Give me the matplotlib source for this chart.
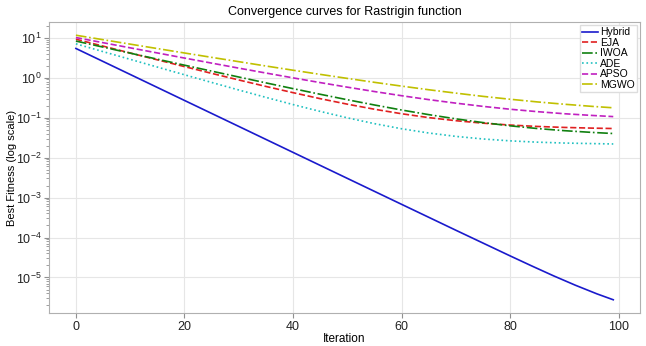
import matplotlib
matplotlib.use("Agg")
import matplotlib.pyplot as plt

iterations = [0, 5, 10, 15, 20, 25, 30, 35, 40, 45, 50, 55, 60, 65, 70, 75, 80, 85, 90, 95, 99]
hybrid_iterations = [0, 10, 20, 30, 40, 50, 60, 70, 80, 84, 88, 92, 96, 99]

hybrid = [5.37, 1.202, 0.269, 0.0603, 0.01349, 0.00302, 0.000677, 0.0001521, 3.47e-5,
          1.94e-5, 1.10e-5, 6.42e-6, 3.89e-6, 2.77e-6]
eja = [9.15, 6.15, 4.14, 2.79, 1.89, 1.28, 0.875, 0.603, 0.421, 0.298, 0.217, 0.162,
       0.125, 0.100, 0.0837, 0.0726, 0.0651, 0.0601, 0.0568, 0.0546, 0.0533]
iwoa = [8.23, 5.81, 4.10, 2.90, 2.05, 1.457, 1.037, 0.740, 0.531, 0.384, 0.280, 0.207,
        0.155, 0.1187, 0.0931, 0.0751, 0.0623, 0.0533, 0.0471, 0.0427, 0.040]
ade = [7.02, 4.48, 2.87, 1.84, 1.18, 0.759, 0.491, 0.321, 0.212, 0.143, 0.0987, 0.0706,
       0.0526, 0.0412, 0.0339, 0.0292, 0.0262, 0.0243, 0.0231, 0.0224, 0.0219]
apso = [10.08, 7.49, 5.57, 4.15, 3.09, 2.31, 1.73, 1.305, 0.987, 0.752, 0.578, 0.449,
        0.353, 0.282, 0.230, 0.191, 0.162, 0.141, 0.125, 0.1135, 0.106]
mgwo = [11.51, 8.90, 6.89, 5.34, 4.14, 3.22, 2.51, 1.957, 1.534, 1.208, 0.957, 0.763,
        0.614, 0.498, 0.410, 0.340, 0.288, 0.247, 0.216, 0.1915, 0.176]

series = [
    ("Hybrid", hybrid_iterations, hybrid, "#1a1acc", "-"),
    ("EJA", iterations, eja, "#e02020", "--"),
    ("IWOA", iterations, iwoa, "#108010", "-."),
    ("ADE", iterations, ade, "#20c0c0", ":"),
    ("APSO", iterations, apso, "#c020c0", "--"),
    ("MGWO", iterations, mgwo, "#c0c000", "-."),
]

plt.rcParams["font.family"] = ["Liberation Sans", "DejaVu Sans"]

fig = plt.figure(figsize=(6.46, 3.46), dpi=100)
ax = fig.add_axes([0.0759, 0.0954, 0.915, 0.841])

for name, xs, vals, col, ls in series:
    ax.plot(xs, vals, color=col, linestyle=ls, linewidth=1.2, label=name)

ax.set_yscale("log")
ax.set_xticks([0, 20, 40, 60, 80, 100])
ax.grid(True, which="major", color="#e6e6e6", linewidth=0.8)
ax.set_axisbelow(True)
for sp in ax.spines.values():
    sp.set_color("#b0b0b0")
ax.tick_params(colors="#909090", labelcolor="#222222", labelsize=9)
ax.tick_params(axis="x", pad=2.5)
ax.tick_params(axis="y", pad=2)
ax.tick_params(which="minor", colors="#909090")

ax.set_title("Convergence curves for Rastrigin function", fontsize=9, pad=5)
ax.set_xlabel("Iteration", fontsize=8.5, labelpad=0)
ax.set_ylabel("Best Fitness (log scale)", fontsize=8)
ax.yaxis.set_label_coords(-0.055, 0.5)

leg = ax.legend(loc="upper right", fontsize=7.5, handlelength=1.5, handletextpad=0.2,
                labelspacing=0.05, borderpad=0.2, borderaxespad=0.3, fancybox=False,
                framealpha=1.0, edgecolor="#dddddd")

fig.savefig("out.png", dpi=100)
